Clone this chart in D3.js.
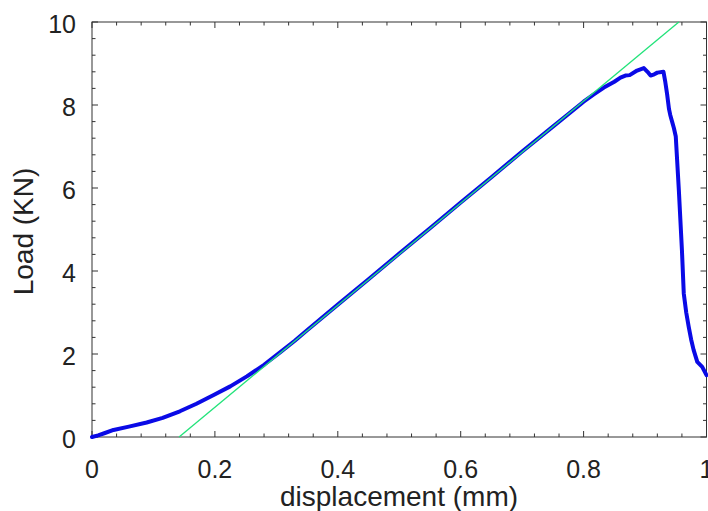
<!DOCTYPE html>
<html>
<head>
<meta charset="utf-8">
<script src="https://cdn.jsdelivr.net/npm/d3@7"></script>
<style>
html,body{margin:0;padding:0;background:#fff;overflow:hidden;}
text{font-family:"Liberation Sans",Arial,Helvetica,sans-serif;fill:#222;}
</style>
</head>
<body>
<svg id="chart" width="708" height="511"></svg>
<script>
// Measured load-displacement curve
const dispX = [0,0.01,0.02,0.035,0.06,0.089,0.115,0.143,0.17,0.198,0.225,0.252,0.28,0.306,0.33,
  0.35,0.4,0.45,0.5,0.55,0.6,0.65,0.7,0.75,0.8,
  0.816,0.833,0.85,0.86,0.868,0.875,0.887,0.898,0.904,0.909,0.915,0.92,0.93,0.933,0.936,0.939,0.941,0.944,0.947,0.95,
  0.955,0.96,0.963,0.967,0.971,0.975,0.979,0.985,0.993,1.0];
const loadY = [0,0.04,0.09,0.17,0.25,0.35,0.46,0.62,0.8,1.01,1.22,1.46,1.74,2.04,2.32,
  2.57,3.19,3.8,4.42,5.03,5.65,6.26,6.88,7.48,8.08,
  8.25,8.42,8.56,8.66,8.71,8.72,8.83,8.89,8.8,8.71,8.74,8.78,8.8,8.55,8.25,7.9,7.76,7.6,7.44,7.24,
  5.95,4.51,3.46,3.0,2.66,2.35,2.1,1.81,1.69,1.49];
// Linear (elastic) fit line
const fitX = [0.1417, 0.955];
const fitY = [0, 10];
// Tick labels
const xTicks = [0,0.2,0.4,0.6,0.8,1];
const yTicks = [0,2,4,6,8,10];

const svg = d3.select("#chart");
const L = 92, R = 706.5, T = 22, B = 437;
const x = d3.scaleLinear().domain([0,1]).range([L,R]);
const y = d3.scaleLinear().domain([0,10]).range([B,T]);

svg.append("defs").append("clipPath").attr("id","clip")
  .append("rect").attr("x",L-3).attr("y",T).attr("width",R-L+6).attr("height",B-T+3);

const axisColor = "#333";
const g = svg.append("g");
// box
g.append("rect").attr("x",L).attr("y",T).attr("width",R-L).attr("height",B-T)
  .attr("fill","none").attr("stroke",axisColor).attr("stroke-width",1);

const xMinor = d3.range(0,1.0001,0.04);
const yMinor = d3.range(0,10.0001,0.4);
function tickLen(v, majors){ return majors.some(m=>Math.abs(m-v)<1e-6) ? 6 : 3.5; }
xMinor.forEach(v=>{
  const l = tickLen(v,xTicks);
  g.append("line").attr("x1",x(v)).attr("x2",x(v)).attr("y1",B).attr("y2",B-l).attr("stroke",axisColor);
  g.append("line").attr("x1",x(v)).attr("x2",x(v)).attr("y1",T).attr("y2",T+l).attr("stroke",axisColor);
});
yMinor.forEach(v=>{
  const l = tickLen(v,yTicks);
  g.append("line").attr("y1",y(v)).attr("y2",y(v)).attr("x1",L).attr("x2",L+l).attr("stroke",axisColor);
  g.append("line").attr("y1",y(v)).attr("y2",y(v)).attr("x1",R).attr("x2",R-l).attr("stroke",axisColor);
});

// tick labels
g.selectAll(".xl").data(xTicks).enter().append("text")
  .attr("x",d=>x(d)).attr("y",478).attr("text-anchor","middle")
  .style("font-size","25px").text(d=>d3.format("")(d));
g.selectAll(".yl").data(yTicks).enter().append("text")
  .attr("x",76).attr("y",d=>y(d)+11).attr("text-anchor","end")
  .style("font-size","25px").text(d=>d);

// axis titles
svg.append("text").attr("x",399).attr("y",506).attr("text-anchor","middle")
  .style("font-size","28px").text("displacement (mm)");
svg.append("text").attr("transform","translate(33,231.5) rotate(-90)").attr("text-anchor","middle")
  .style("font-size","28px").text("Load (KN)");

// curves
const data = dispX.map((d,i)=>[d,loadY[i]]);
const line = d3.line().x(d=>x(d[0])).y(d=>y(d[1]));
svg.append("path").datum(data).attr("d",line).attr("clip-path","url(#clip)")
  .attr("fill","none").attr("stroke","#0a0ae6").attr("stroke-width",4)
  .attr("stroke-linejoin","round").attr("stroke-linecap","round");
const fit = fitX.map((d,i)=>[d,fitY[i]]);
svg.append("path").datum(fit).attr("d",line)
  .attr("fill","none").attr("stroke","#22e37a").attr("stroke-width",1.3);
</script>
</body>
</html>
